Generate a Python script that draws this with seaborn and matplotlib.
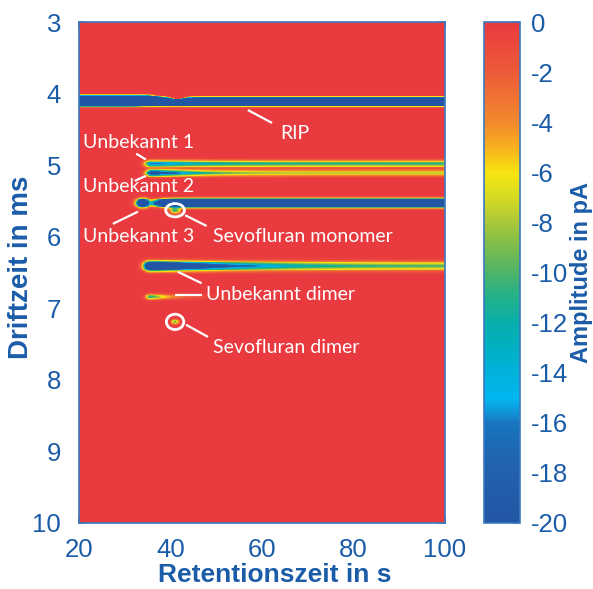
import numpy as np
import pandas as pd
import seaborn as sns
import matplotlib
matplotlib.use("Agg")
import matplotlib.pyplot as plt
from matplotlib.colors import LinearSegmentedColormap
from matplotlib.patches import Ellipse

# ---------------------------------------------------------------- data
retention_min, retention_max, retention_step = 20.0, 100.0, 0.2   # s
drift_min, drift_max, drift_step = 3.0, 10.0, 0.01                 # ms

x_ticks = [20, 40, 60, 80, 100]
y_ticks = [3, 4, 5, 6, 7, 8, 9, 10]
cbar_ticks = [0, -2, -4, -6, -8, -10, -12, -14, -16, -18, -20]

# streak-shaped signals: constant drift time, persisting over retention time
band_names = ["RIP", "RIP front", "RIP edge", "Unbekannt 1", "Unbekannt 2",
              "Band 5.53", "Band 6.41", "Unbekannt dimer"]
band_drift = [4.115, 4.092, 4.165, 4.98, 5.11, 5.53, 6.41, 6.84]       # ms
band_sigma = [0.025, 0.027, 0.010, 0.030, 0.029, 0.030, 0.040, 0.026]  # ms
band_onset = [0.0, 0.0, 0.0, 34.6, 35.0, 38.0, 34.6, 34.8]             # s
band_rise = [0.5, 0.5, 0.5, 0.4, 0.4, 1.0, 0.4, 0.3]                   # s
band_head = [-300, -300, -30, -18, -30, -100, -45, -14]                # pA
band_tail = [-300, -300, -30, -11, -7.5, -100, -9.5, 0]                # pA
band_decay = [1.0, 1.0, 1.0, 10.0, 7.0, 1.0, 14.0, 4.5]                # s
band_end = [200.0, 36.0, 33.0, 200.0, 200.0, 200.0, 200.0, 200.0]      # s

# isolated spots
spot_names = ["Unbekannt 3", "Sevofluran monomer", "Sevofluran dimer", "RIP depletion"]
spot_retention = [33.9, 41.0, 41.0, 41.5]   # s
spot_drift = [5.53, 5.635, 7.19, 4.09]      # ms
spot_sigma_t = [0.85, 0.8, 0.55, 1.2]       # s
spot_sigma_d = [0.035, 0.028, 0.024, 0.03]  # ms
spot_amp = [-45, -10.5, -9, 60]             # pA

# colour scale (amplitude in pA -> colour)
cmap_levels = [-20, -18, -17, -16, -15.7, -15, -14, -13, -12, -11, -10,
               -9, -8, -7, -6, -5, -4, -2, 0]
cmap_colors = ["#2256A4", "#2261AC", "#1D68B3", "#1777C0", "#1290D6", "#00B6EF",
               "#00B2DA", "#00B0C2", "#08AFAA", "#22B18A", "#4DB46A",
               "#7BBC4C", "#A9C73A", "#D6DA22", "#F6E510", "#F8B01F", "#F28A2D",
               "#ED5B39", "#E93A3F"]

# ---------------------------------------------------------------- field
t = np.arange(retention_min + retention_step / 2, retention_max, retention_step)
d = np.arange(drift_min + drift_step / 2, drift_max, drift_step)
T, D = np.meshgrid(t, d)
Z = np.zeros_like(T)

for dc, sd, t0, rw, a0, a1, tau, te in zip(band_drift, band_sigma, band_onset,
                                           band_rise, band_head, band_tail,
                                           band_decay, band_end):
    rise = 1.0 / (1.0 + np.exp(-(T - t0) / rw))
    fall = 1.0 / (1.0 + np.exp((T - te) / 0.6))
    amp = a1 + (a0 - a1) * np.exp(-np.clip(T - t0, 0, None) / tau)
    Z += rise * fall * amp * np.exp(-0.5 * ((D - dc) / sd) ** 2)

for tc, dc, st, sd, a in zip(spot_retention, spot_drift, spot_sigma_t,
                             spot_sigma_d, spot_amp):
    Z += a * np.exp(-0.5 * ((T - tc) / st) ** 2 - 0.5 * ((D - dc) / sd) ** 2)

Z = np.clip(Z, -20, 0)
field = pd.DataFrame(Z, index=np.round(d, 3), columns=np.round(t, 2))

# ---------------------------------------------------------------- figure
sns.set_theme(style="white")
plt.rcParams["font.family"] = ["Liberation Sans", "DejaVu Sans"]

blue_text = "#1B5CA8"
blue_frame = "#3C78C0"

cmap = LinearSegmentedColormap.from_list(
    "ims",
    [((v - cmap_levels[0]) / (cmap_levels[-1] - cmap_levels[0]), c)
     for v, c in zip(cmap_levels, cmap_colors)])

fig = plt.figure(figsize=(5.93, 5.89), dpi=100)
ax = fig.add_axes([79 / 593, 66 / 589, 366 / 593, 501 / 589])
cax = fig.add_axes([484 / 593, 66 / 589, 36 / 593, 501 / 589])

sns.heatmap(field, ax=ax, cbar_ax=cax, cmap=cmap, vmin=-20, vmax=0,
            xticklabels=False, yticklabels=False)


def tx(v):
    return (np.asarray(v, dtype=float) - retention_min) / retention_step


def dy(v):
    return (np.asarray(v, dtype=float) - drift_min) / drift_step


ax.set_xticks(tx(x_ticks))
ax.set_xticklabels([str(v) for v in x_ticks])
ax.set_yticks(dy(y_ticks))
ax.set_yticklabels([str(v) for v in y_ticks], rotation=0)
ax.tick_params(direction="in", top=True, right=True, bottom=True, left=True,
               length=5, width=1.2, color=blue_frame, labelcolor=blue_text,
               labelsize=18.5)
ax.tick_params(axis="x", pad=11)
ax.tick_params(axis="y", pad=13)
for s in ax.spines.values():
    s.set_visible(True)
    s.set_color(blue_frame)
    s.set_linewidth(1.2)

ax.set_xlabel("Retentionszeit in s", fontsize=19, fontweight="bold",
              color=blue_text, va="center")
ax.xaxis.set_label_coords(0.534, -0.104)
ax.set_ylabel("Driftzeit in ms", fontsize=20, fontweight="bold",
              color=blue_text)
ax.yaxis.set_label_coords(-0.122, 0.51)

cbar = ax.collections[0].colorbar
cbar.set_ticks(cbar_ticks)
cbar.set_ticklabels([f"{v:d}" for v in cbar_ticks])
cax.tick_params(direction="in", length=5, width=1.2, color=blue_frame,
                labelcolor=blue_text, labelsize=18.5, pad=8)
cbar.outline.set_edgecolor(blue_frame)
cbar.outline.set_linewidth(1.2)
cbar.set_label("Amplitude in pA", fontsize=17, fontweight="bold",
               color=blue_text, labelpad=1)

# ---------------------------------------------------------------- labels
white = "white"
ann_font = dict(color=white, fontsize=14, family=["Lato", "DejaVu Sans"],
                va="center", ha="left")


def seg(t0, d0, t1, d1):
    ax.plot(tx([t0, t1]), dy([d0, d1]), color=white, lw=1.6,
            solid_capstyle="butt")


seg(56.9, 4.23, 62.2, 4.41)
ax.text(tx(64.0), dy(4.56), "RIP", **ann_font)

seg(32.5, 4.84, 34.6, 4.92)
ax.text(tx(20.8), dy(4.68), "Unbekannt 1", **ann_font)

seg(32.2, 5.22, 34.6, 5.15)
ax.text(tx(20.8), dy(5.30), "Unbekannt 2", **ann_font)

seg(27.4, 5.82, 32.9, 5.65)
ax.text(tx(20.8), dy(6.00), "Unbekannt 3", **ann_font)

seg(43.2, 5.70, 47.9, 5.85)
ax.text(tx(49.2), dy(6.00), "Sevofluran monomer", **ann_font)
ax.add_patch(Ellipse((tx(41.0), dy(5.63)), width=4.1 / retention_step,
                     height=0.186 / drift_step, fill=False, ec=white, lw=2))

seg(41.6, 6.49, 46.8, 6.65)
seg(41.0, 6.81, 46.8, 6.81)
ax.text(tx(47.7), dy(6.81), "Unbekannt dimer", **ann_font)

seg(43.4, 7.23, 48.2, 7.40)
ax.text(tx(49.3), dy(7.55), "Sevofluran dimer", **ann_font)
ax.add_patch(Ellipse((tx(41.0), dy(7.19)), width=3.8 / retention_step,
                     height=0.214 / drift_step, fill=False, ec=white, lw=2))

fig.savefig("out.png", dpi=100)
